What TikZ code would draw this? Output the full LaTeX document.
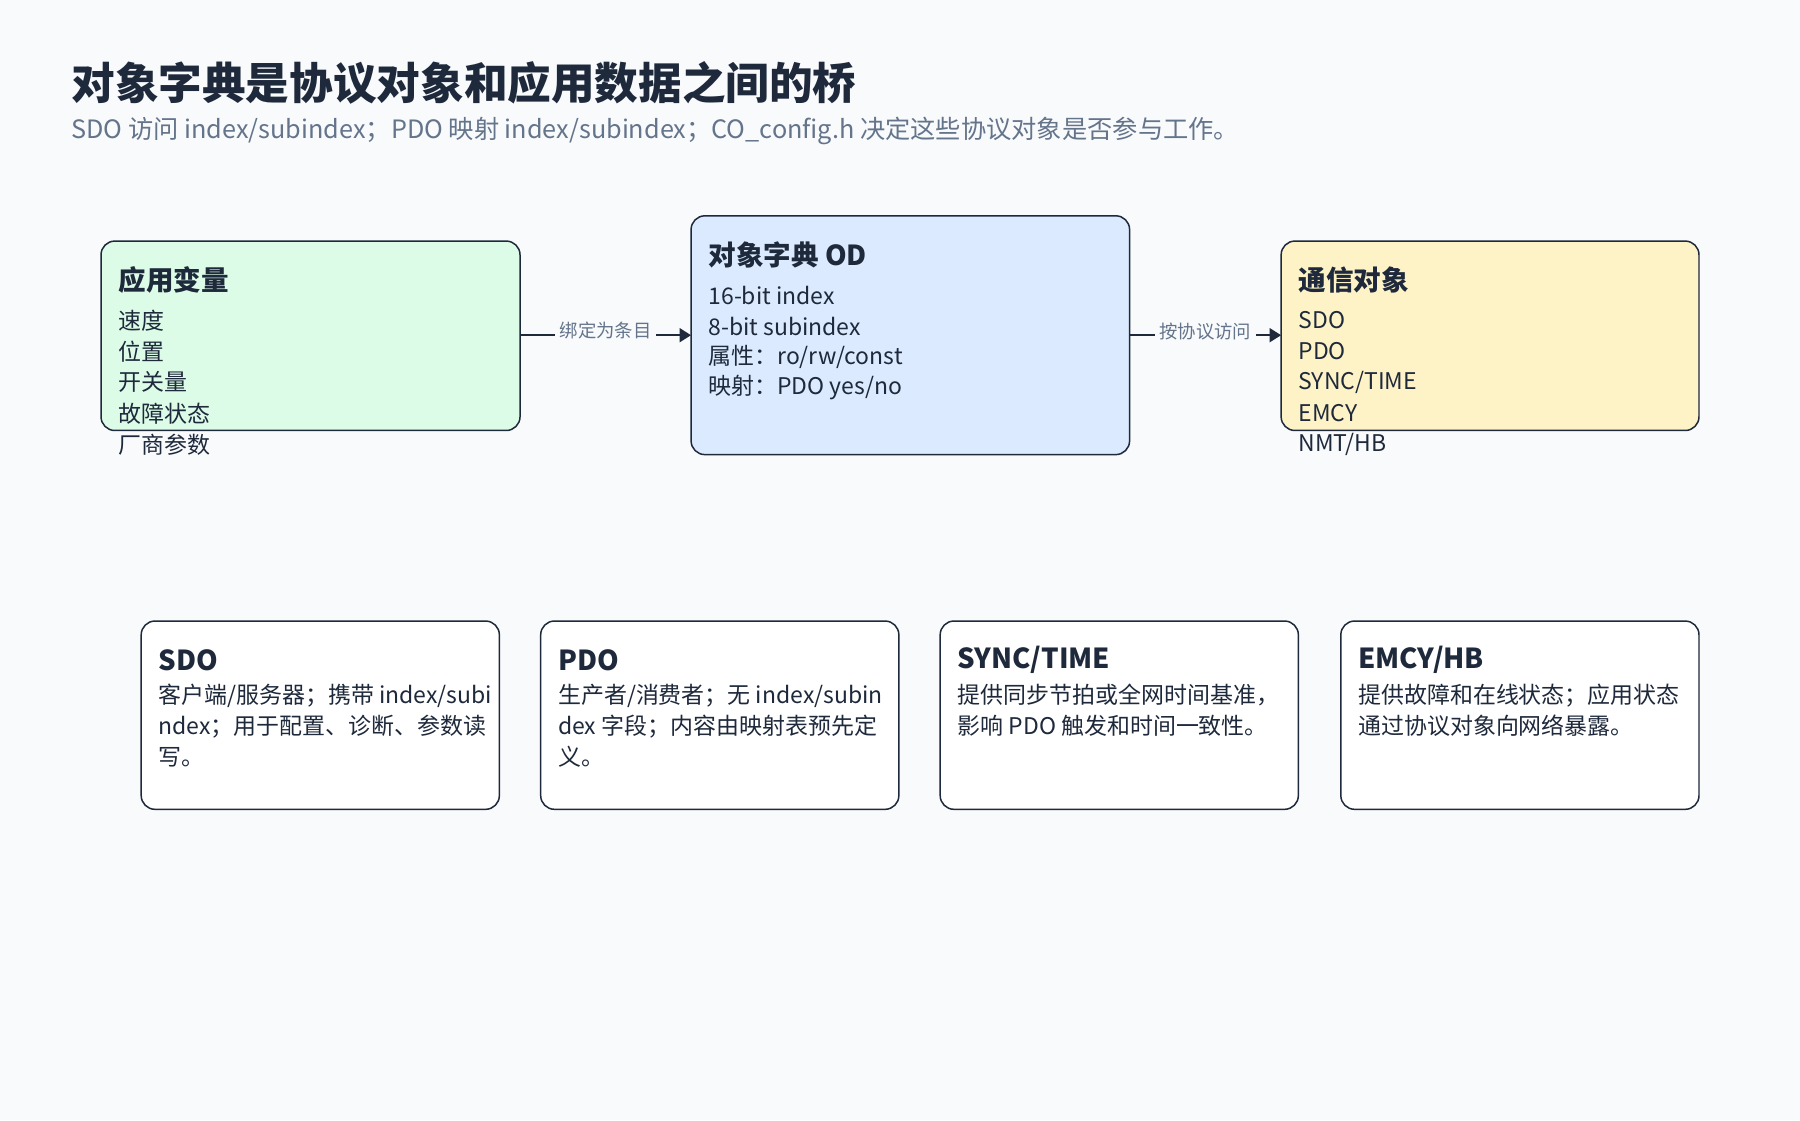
\documentclass[tikz,border=0pt]{standalone}
\usepackage{fontspec}
\setmainfont{Noto Sans CJK SC}
\usetikzlibrary{arrows.meta}
\definecolor{bg}{HTML}{F8FAFC}
\definecolor{ink}{HTML}{1E293B}
\definecolor{sub}{HTML}{64748B}
\definecolor{gfill}{HTML}{DCFCE7}
\definecolor{bfill}{HTML}{DBEAFE}
\definecolor{yfill}{HTML}{FEF3C7}
\tikzset{
  card/.style={draw=ink, line width=1.3pt, rounded corners=12pt},
  ttl/.style={anchor=west, inner sep=0pt, text=ink, font=\fontsize{24}{28}\selectfont\bfseries},
  txt/.style={anchor=west, inner sep=0pt, text=ink, font=\fontsize{20}{27}\selectfont, align=left},
  lbl/.style={fill=bg, inner sep=4pt, text=sub, font=\fontsize{16}{18}\selectfont},
  conn/.style={draw=ink, line width=2pt, -{Triangle[length=10pt,width=12pt]}}
}
\begin{document}
\begin{tikzpicture}[x=1pt,y=-1pt]
\fill[bg] (0,0) rectangle (1568,976);
\useasboundingbox (0,0) rectangle (1568,976);
\node[anchor=west,inner sep=0pt,text=ink,font=\fontsize{38}{40}\selectfont\bfseries] (title) at (62,72) {对象字典是协议对象和应用数据之间的桥};
\node[anchor=west,inner sep=0pt,text=sub,font=\fontsize{22}{24}\selectfont] (subt) at (62,114) {SDO 访问 index/subindex；PDO 映射 index/subindex；CO\_config.h 决定这些协议对象是否参与工作。};

\draw[card,fill=gfill] (88,210) rectangle (453,375);
\coordinate (appE) at (453,292);
\node[ttl] at (103,244) {应用变量};
\node[txt] at (103,279) {速度};
\node[txt] at (103,306) {位置};
\node[txt] at (103,333) {开关量};
\node[txt] at (103,360) {故障状态};
\node[txt] at (103,387) {厂商参数};

\draw[card,fill=bfill] (602,188) rectangle (984,396);
\coordinate (odW) at (602,292);
\coordinate (odE) at (984,292);
\node[ttl] at (617,222) {对象字典 OD};
\node[txt] at (617,257) {16-bit index};
\node[txt] at (617,284) {8-bit subindex};
\node[txt] at (617,311) {属性：ro/rw/const};
\node[txt] at (617,338) {映射：PDO yes/no};

\draw[card,fill=yfill] (1116,210) rectangle (1480,375);
\coordinate (comW) at (1116,292);
\node[ttl] at (1131,244) {通信对象};
\node[txt] at (1131,279) {SDO};
\node[txt] at (1131,306) {PDO};
\node[txt] at (1131,333) {SYNC/TIME};
\node[txt] at (1131,360) {EMCY};
\node[txt] at (1131,387) {NMT/HB};

\draw[conn] (appE) -- node[lbl,yshift=4pt] {绑定为条目} (odW);
\draw[conn] (odE) -- node[lbl,yshift=3pt] {按协议访问} (comW);

\draw[card,fill=white] (123,541) rectangle (435,705);
\node[ttl] at (138,575) {SDO};
\node[txt,anchor=north west] at (138,596) {客户端/服务器；携带 index/subi\\ndex；用于配置、诊断、参数读\\写。};

\draw[card,fill=white] (471,541) rectangle (783,705);
\node[ttl] at (486,575) {PDO};
\node[txt,anchor=north west] at (486,596) {生产者/消费者；无 index/subin\\dex 字段；内容由映射表预先定\\义。};

\draw[card,fill=white] (819,541) rectangle (1131,705);
\node[ttl] at (834,575) {SYNC/TIME};
\node[txt,anchor=north west] at (834,596) {提供同步节拍或全网时间基准，\\影响 PDO 触发和时间一致性。};

\draw[card,fill=white] (1168,541) rectangle (1480,705);
\node[ttl] at (1183,575) {EMCY/HB};
\node[txt,anchor=north west] at (1183,596) {提供故障和在线状态；应用状态\\通过协议对象向网络暴露。};
\end{tikzpicture}
\end{document}
